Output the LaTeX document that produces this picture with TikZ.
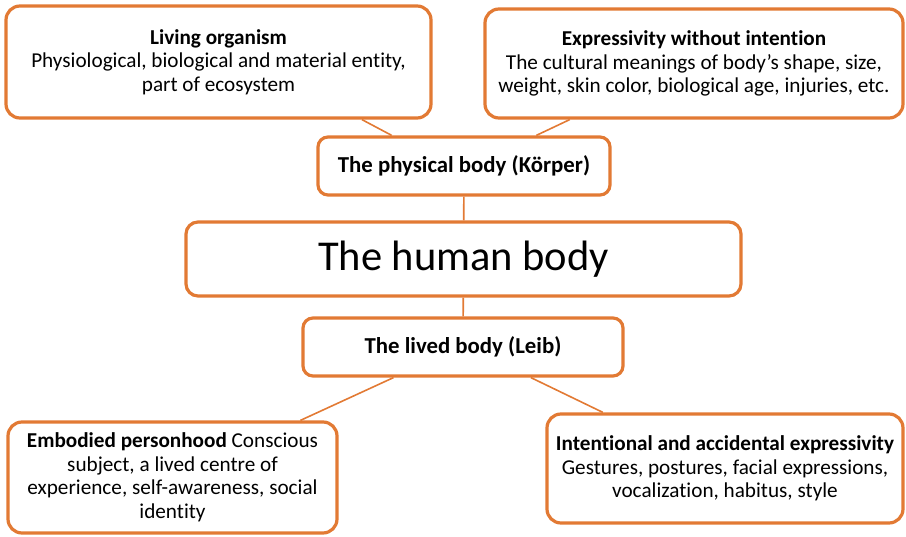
\documentclass[tikz,border=0pt]{standalone}
\usepackage{fontspec}
\setmainfont{Carlito}[Ligatures=NoCommon]
\usetikzlibrary{calc}
\definecolor{bodyorange}{RGB}{226,122,52}
\tikzset{every picture/.style={line width=0.75pt}}
\tikzset{
  rbox/.style={draw=bodyorange, line width=3.2pt, fill=white, rounded corners=14pt,
    inner sep=0pt, align=center, font=\fontsize{21.2}{23.5}\selectfont},
  link/.style={draw=bodyorange, line width=1.6pt}
}

\begin{document}
\begin{tikzpicture}[x=1pt,y=1pt,yscale=-1,xscale=1]
	\useasboundingbox (0,0) rectangle (906,537);
	
	%Rounded Rect [id:org] 
	\node (org) [rbox, minimum width=425, minimum height=112] at (218.5,62)
	  {\textbf{Living organism}\\Physiological, biological and material entity,\\part of ecosystem};
	%Rounded Rect [id:expr] 
	\node (expr) [rbox, minimum width=418, minimum height=109] at (694,63.5)
	  {\textbf{Expressivity without intention}\\ The cultural meanings of body’s shape, size,\\weight, skin color, biological age, injuries, etc.};
	%Rounded Rect [id:phys] 
	\node (phys) [rbox, rounded corners=10pt, minimum width=292, minimum height=58, font=\fontsize{22.8}{26}\selectfont] at (464,166)
	  {\textbf{The physical body (Körper)}};
	%Rounded Rect [id:human] 
	\node (human) [rbox, rounded corners=12pt, minimum width=555, minimum height=74, font=\fontsize{42.5}{50}\selectfont] at (463.5,259)
	  {The human body};
	%Rounded Rect [id:lived] 
	\node (lived) [rbox, rounded corners=10pt, minimum width=320, minimum height=58, font=\fontsize{22.8}{26}\selectfont] at (463,347)
	  {\textbf{The lived body (Leib)}};
	%Rounded Rect [id:emb] 
	\node (emb) [rbox, minimum width=329, minimum height=111] at (172.5,477.5)
	  {\textbf{Embodied personhood} Conscious\\subject, a lived centre of\\experience, self-awareness, social\\identity};
	%Rounded Rect [id:intent] 
	\node (intent) [rbox, minimum width=356, minimum height=109] at (725,468.5)
	  {\textbf{Intentional and accidental expressivity}\\Gestures, postures, facial expressions,\\vocalization, habitus, style};
	
	%Straight Lines 
	\draw [link] ($(org.south)!0.67!(org.south east)$) -- ($(phys.north)!0.49!(phys.north west)$);
	%Straight Lines 
	\draw [link] ($(expr.south)!0.59!(expr.south west)$) -- ($(phys.north)!0.49!(phys.north east)$);
	%Straight Lines 
	\draw [link] (phys) -- (human);
	%Straight Lines 
	\draw [link] (human) -- (lived);
	%Straight Lines 
	\draw [link] ($(lived.south)!0.43!(lived.south west)$) -- ($(emb.north)!0.77!(emb.north east)$);
	%Straight Lines 
	\draw [link] ($(lived.south)!0.42!(lived.south east)$) -- ($(intent.north)!0.68!(intent.north west)$);
	
\end{tikzpicture}
\end{document}
